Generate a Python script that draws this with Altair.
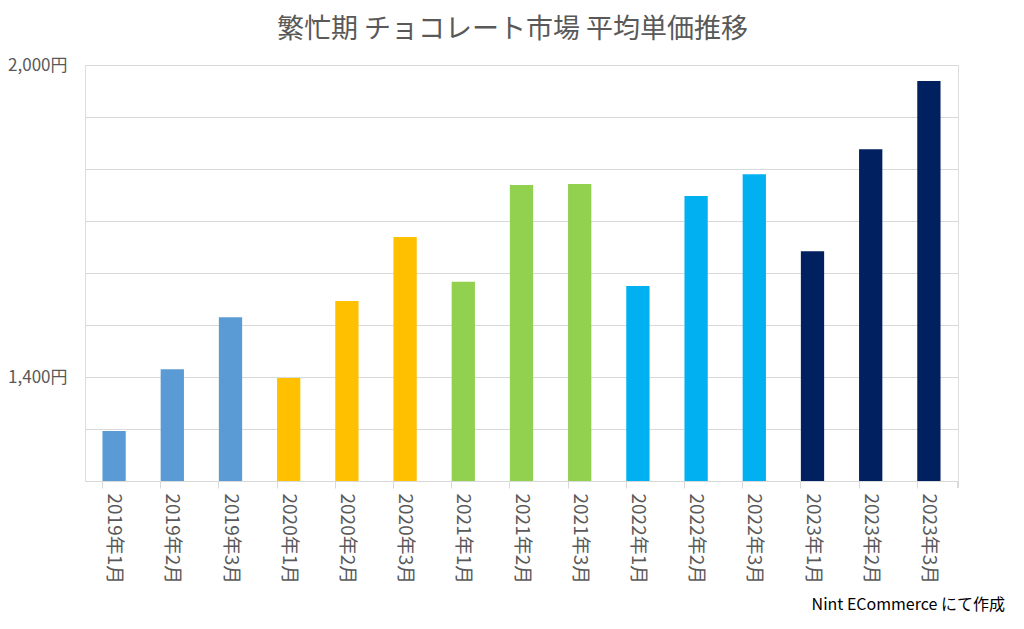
import altair as alt
import pandas as pd

months = ["2019年1月", "2019年2月", "2019年3月",
          "2020年1月", "2020年2月", "2020年3月",
          "2021年1月", "2021年2月", "2021年3月",
          "2022年1月", "2022年2月", "2022年3月",
          "2023年1月", "2023年2月", "2023年3月"]
years = ["2019", "2019", "2019", "2020", "2020", "2020", "2021", "2021", "2021",
         "2022", "2022", "2022", "2023", "2023", "2023"]
prices = [1296, 1415, 1515, 1398, 1546, 1669, 1583, 1769, 1771,
          1575, 1748, 1790, 1642, 1838, 1969]
year_domain = ["2019", "2020", "2021", "2022", "2023"]
year_colors = ["#5B9BD5", "#FFC000", "#92D050", "#00B0F0", "#002060"]

df = pd.DataFrame({"month": months, "year": years, "price": prices})

FONT = "Noto Sans CJK JP"
W, H = 873, 416

bars = alt.Chart(df).mark_bar(clip=True).encode(
    x=alt.X("month:N", sort=months,
            scale=alt.Scale(paddingInner=0.6, paddingOuter=0.3),
            axis=alt.Axis(title=None, labelAngle=90, labelAlign="left",
                          labelBaseline="middle", labelPadding=5,
                          labelFont=FONT, labelFontSize=19, labelColor="#595959",
                          labelOverlap=False,
                          domainColor="#d9d9d9", tickColor="#d9d9d9",
                          tickSize=7, bandPosition=0, grid=False)),
    y=alt.Y("price:Q",
            scale=alt.Scale(domain=[1200, 2000], nice=False, zero=False),
            axis=alt.Axis(title=None, values=list(range(1200, 2001, 100)),
                          labelExpr="(datum.value == 1400 || datum.value == 2000) ? format(datum.value, ',') + '円' : ''",
                          labelFont=FONT, labelFontSize=17, labelColor="#595959",
                          labelPadding=18, ticks=False, domain=False,
                          gridColor="#d9d9d9", gridWidth=1)),
    color=alt.Color("year:N", scale=alt.Scale(domain=year_domain, range=year_colors),
                    legend=None),
)

end_tick = alt.Chart(df).mark_rule(color="#d9d9d9").encode(
    x=alt.value(W), y=alt.value(H), y2=alt.value(H + 7)
)

footer = alt.Chart(pd.DataFrame({"t": ["Nint ECommerce にて作成"]})).mark_text(
    align="right", baseline="middle", font=FONT, fontSize=16, color="#000000"
).encode(x=alt.value(920), y=alt.value(540), text="t:N")

chart = alt.layer(bars, end_tick, footer).properties(
    width=W, height=H,
    title=alt.TitleParams("繁忙期 チョコレート市場 平均単価推移", font=FONT, fontSize=27,
                          fontWeight="normal", color="#595959", anchor="middle",
                          dx=-9, offset=12),
    autosize=alt.AutoSizeParams(type="none"),
    padding={"left": 77, "top": 57, "right": 58, "bottom": 140},
).configure_view(stroke=None).configure(background="white")

chart.save("out.html", embed_options={"renderer": "svg", "actions": False})
